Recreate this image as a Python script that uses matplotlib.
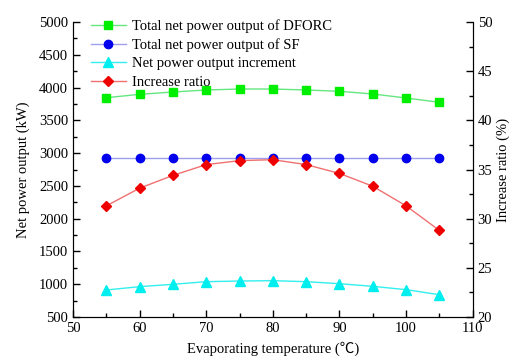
import matplotlib
matplotlib.use('Agg')
import matplotlib.pyplot as plt
from matplotlib.ticker import MultipleLocator

plt.rcParams['font.family'] = ['Liberation Serif', 'Noto Sans CJK SC', 'DejaVu Sans']
plt.rcParams['font.size'] = 10.5

# evaporating temperature (C)
temps = [55, 60, 65, 70, 75, 80, 85, 90, 95, 100, 105]
# net power output (kW)
dforc = [3845, 3897, 3932, 3963, 3978, 3978, 3963, 3943, 3902, 3841, 3775]
sf = [2920, 2920, 2920, 2920, 2920, 2920, 2920, 2920, 2920, 2920, 2920]
increment = [912, 963, 999, 1039, 1049, 1054, 1039, 1008, 968, 917, 840]
# increase ratio (%)
ratio = [31.3, 33.1, 34.4, 35.5, 35.9, 36.0, 35.5, 34.6, 33.3, 31.3, 28.8]

fig = plt.figure(figsize=(5.1, 3.58), dpi=100)
ax = fig.add_axes([0.143, 0.1145, 0.784, 0.824])
ax2 = ax.twinx()

l1, = ax.plot(temps, dforc, color='#66e680', lw=1, marker='s', ms=5.5,
              mfc='#00ee00', mec='#00ee00', label='Total net power output of DFORC')
l2, = ax.plot(temps, sf, color='#9f9fef', lw=1, marker='o', ms=6,
              mfc='#0000ee', mec='#0000ee', label='Total net power output of SF')
l3, = ax.plot(temps, increment, color='#33eeee', lw=1, marker='^', ms=6.5,
              mfc='#00eeee', mec='#00eeee', label='Net power output increment')
l4, = ax2.plot(temps, ratio, color='#f07070', lw=1, marker='D', ms=5.5,
               mfc='#ee0000', mec='#ee0000', label='Increase ratio')

ax.set_xlim(50, 110)
ax.set_ylim(500, 5000)
ax2.set_ylim(20, 50)
ax.xaxis.set_major_locator(MultipleLocator(10))
ax.xaxis.set_minor_locator(MultipleLocator(5))
ax.yaxis.set_major_locator(MultipleLocator(500))
ax.yaxis.set_minor_locator(MultipleLocator(250))
ax2.yaxis.set_major_locator(MultipleLocator(5))
ax2.yaxis.set_minor_locator(MultipleLocator(2.5))

for a in (ax, ax2):
    a.spines['top'].set_visible(False)
    a.tick_params(which='major', direction='in', length=5, width=1)
    a.tick_params(which='minor', direction='in', length=3, width=1)
ax.tick_params(which='both', right=False, top=False)
ax2.tick_params(which='both', top=False)

ax.set_xlabel('Evaporating temperature (\u2103)', labelpad=4.5)
ax.set_ylabel('Net power output (kW)', labelpad=6)
ax2.set_ylabel('Increase ratio (%)', labelpad=3)

ax.legend(handles=[l1, l2, l3, l4], loc='upper left', frameon=False,
          bbox_to_anchor=(0.03, 1.03), handlelength=2.4, handletextpad=0.4,
          labelspacing=0.36, borderaxespad=0)

fig.savefig('out.png', dpi=100)
